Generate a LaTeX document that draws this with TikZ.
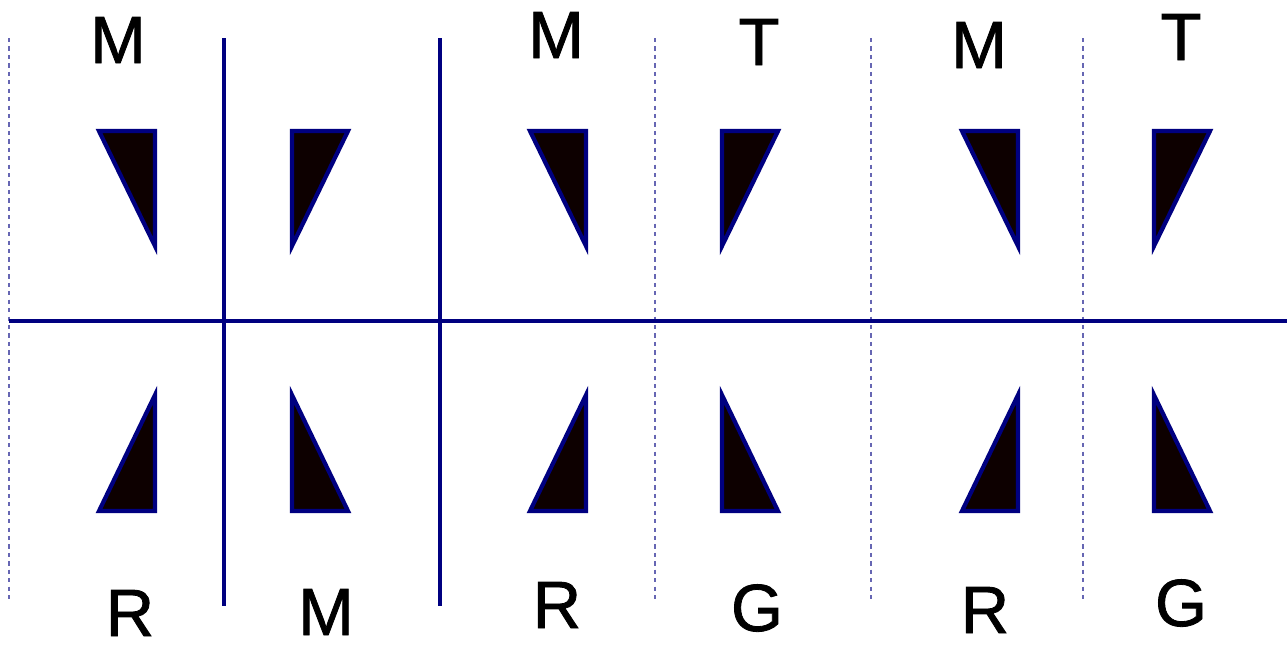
\documentclass[tikz,border=0pt]{standalone}
\usepackage{fontspec}
\setmainfont{Liberation Sans}
\newfontfamily\heavyfont[FakeBold=1.2]{Liberation Sans}
\usepackage{xcolor}
\usetikzlibrary{positioning}
\definecolor{RuleNavy}{HTML}{000080}
\definecolor{WedgeFill}{HTML}{0D0000}

\begin{document}
\begin{tikzpicture}[
    x=0.01cm, y=-0.01cm,
    rule/.style={draw=RuleNavy, line width=1.05pt},
    guide/.style={draw=RuleNavy!60, line width=0.3pt, dash pattern=on 1.2pt off 1.2pt},
    wedge/.style={draw=RuleNavy, line width=1.2pt, fill=WedgeFill, line join=miter},
    letter/.style={inner sep=0pt, font=\heavyfont\fontsize{19}{22}\selectfont}
  ]
    \useasboundingbox (0,0) rectangle (1287,644);
    % guide lines
    \foreach \gx in {9,655,871,1083}
      \draw[guide] (\gx,38) -- (\gx,602);
    % panel rules
    \coordinate (hl) at (9,321);
    \coordinate (hr) at (1287,321);
    \draw[rule] (hl) -- (hr);
    \foreach \vx in {224,440}
      \draw[rule] (\vx,38) -- (\vx,606);
    % wedges, right angle on the right
    \foreach \wx in {99,530,962} {
      \draw[wedge] (\wx,131) -- (\wx+56,131) -- (\wx+56,246) -- cycle;
      \draw[wedge] (\wx+56,395) -- (\wx+56,511) -- (\wx,511) -- cycle;
    }
    % wedges, right angle on the left
    \foreach \wx in {292,722,1154} {
      \draw[wedge] (\wx,131) -- (\wx+56,131) -- (\wx,246) -- cycle;
      \draw[wedge] (\wx,395) -- (\wx,511) -- (\wx+56,511) -- cycle;
    }
    % labels
    \node[letter] (top1) at (118,40) {M};
    \node[letter] (top3) at (556,35) {M};
    \node[letter] (top4) at (759,42) {T};
    \node[letter] (top5) at (979,45) {M};
    \node[letter] (top6) at (1181,37) {T};
    \node[letter] (bot1) at (130,613) {R};
    \node[letter] (bot2) at (326,612) {M};
    \node[letter] (bot3) at (557,605) {R};
    \node[letter] (bot4) at (757,608) {G};
    \node[letter] (bot5) at (985,610) {R};
    \node[letter] (bot6) at (1181,603) {G};
  \end{tikzpicture}
\end{document}
